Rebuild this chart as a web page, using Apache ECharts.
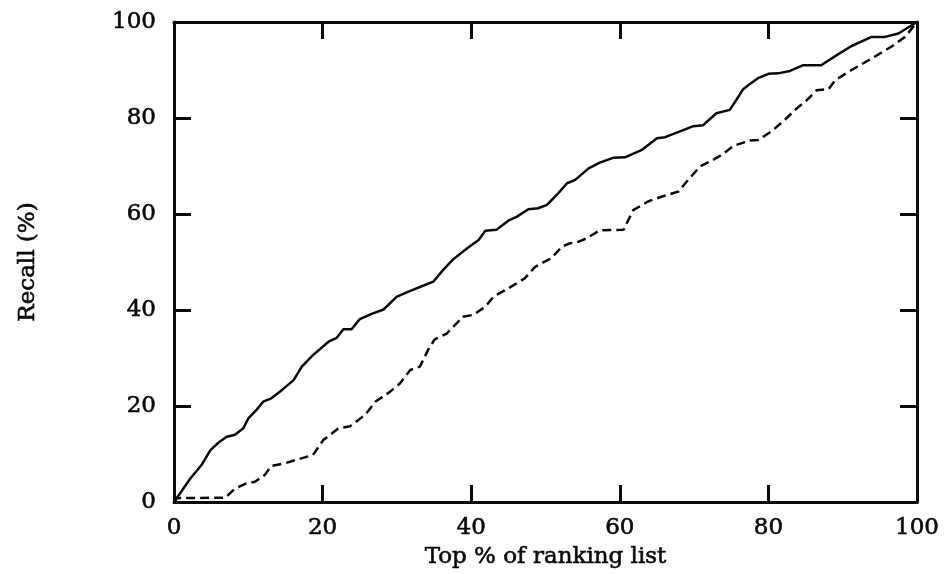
<!DOCTYPE html>
<html>
<head>
<meta charset="utf-8">
<title>Recall vs ranking list</title>
<script src="https://cdn.jsdelivr.net/npm/echarts@6/dist/echarts.min.js"></script>
<style>
    html, body { margin: 0; padding: 0; background: #fff; }
    .main { width: 944px; height: 574px; }
</style>
</head>
<body>
<div class="main"></div>
<script>
// values (x = top % of ranking list, y = recall %)
let solidX = [0, 2.2, 3.7, 4.9, 6.0, 7.1, 8.2, 9.3, 10.0, 11.1, 12.0, 13.1, 14.5, 16.1, 17.2, 18.7,
    20.8, 21.9, 22.8, 23.9, 25.0, 26.6, 28.2, 30.0, 31.8, 33.6, 34.9, 36.2, 37.6, 39.6, 41.0, 41.9,
    43.4, 45.0, 46.1, 47.7, 49.0, 50.2, 51.7, 52.9, 54.0, 55.8, 57.3, 59.1, 60.7, 62.9, 65.0, 66.1,
    68.1, 69.9, 71.2, 73.0, 74.8, 75.7, 76.6, 77.5, 78.6, 80.0, 81.3, 82.9, 84.7, 87.1, 89.2, 91.2,
    93.9, 95.7, 97.5, 100];
let solidY = [0, 4.9, 7.7, 10.8, 12.4, 13.6, 14.0, 15.3, 17.4, 19.2, 20.9, 21.6, 23.3, 25.4, 28.2, 30.6,
    33.4, 34.2, 36.0, 36.0, 38.1, 39.2, 40.1, 42.8, 44.0, 45.1, 45.9, 48.3, 50.6, 53.0, 54.6, 56.5,
    56.7, 58.6, 59.4, 61.0, 61.2, 61.9, 64.3, 66.4, 67.1, 69.5, 70.7, 71.7, 71.8, 73.3, 75.8, 76.0,
    77.2, 78.3, 78.5, 81.0, 81.7, 83.8, 86.0, 87.1, 88.3, 89.2, 89.3, 89.8, 91.0, 91.0, 93.1, 95.0,
    96.9, 96.9, 97.6, 100];

let dashedX = [0, 0.4, 6.9, 8.2, 9.6, 10.9, 12.2, 13.1, 15.0, 16.7, 18.7, 20.1, 22.1, 23.7, 25.7, 27.1,
    29.1, 30.4, 31.8, 33.1, 34.2, 35.1, 36.7, 38.9, 40.3, 41.9, 43.0, 45.0, 47.2, 48.6, 50.8, 52.2,
    53.3, 54.4, 55.5, 57.3, 60.5, 61.8, 63.8, 65.6, 67.9, 69.2, 70.8, 72.1, 73.7, 75.3, 77.5, 78.6,
    80.4, 82.2, 83.8, 85.1, 86.5, 88.1, 89.0, 91.2, 93.9, 96.6, 98.4, 100];
let dashedY = [0, 0.8, 0.9, 2.8, 3.8, 4.2, 5.6, 7.5, 8.1, 8.9, 9.8, 12.9, 15.3, 15.8, 18.1, 20.9,
    23.0, 24.7, 27.5, 28.2, 31.7, 33.9, 35.1, 38.6, 39.0, 40.7, 42.8, 44.5, 46.6, 49.0, 50.8, 53.2,
    53.9, 54.2, 54.9, 56.6, 56.7, 60.8, 62.6, 63.6, 64.7, 67.1, 69.9, 70.9, 72.3, 74.2, 75.3, 75.4,
    77.2, 79.6, 82.0, 83.6, 85.8, 86.0, 87.9, 90.0, 92.4, 94.9, 96.9, 100];

let axisMin = 0;
let axisMax = 100;
let tickStep = 20;

let zip = function(xs, ys) {
    return xs.map(function(x, i) { return [x, ys[i]]; });
};

let chart = echarts.init(document.querySelector('.main'), null, { renderer: 'canvas' });

// DejaVu Serif is wide, close to the Computer Modern look of the original;
// a thin outline gives the heavier scanned stroke
let font = '"DejaVu Serif", "Liberation Serif", serif';
let ink = '#0a0a0a';
let textStyle = {
    color: ink, fontFamily: font, fontSize: 23,
    textBorderColor: ink, textBorderWidth: 0.6
};

// frame axis: same scale on all four sides, ticks pointing inward
let frameAxis = function(position, showLabel, extra) {
    return Object.assign({
        type: 'value',
        position: position,
        min: axisMin,
        max: axisMax,
        interval: tickStep,
        axisLine: { show: true, onZero: false, lineStyle: { color: ink, width: 3 } },
        axisTick: { show: true, inside: true, length: 17, lineStyle: { color: ink, width: 3 } },
        axisLabel: Object.assign({ show: showLabel }, textStyle),
        splitLine: { show: false }
    }, extra || {});
};

let options = {
    animation: false,
    backgroundColor: '#fff',
    grid: { left: 174, right: 27, top: 22, bottom: 72 },
    xAxis: [
        frameAxis('bottom', true, {
            name: 'Top % of ranking list',
            nameLocation: 'middle',
            nameGap: 33,
            nameTextStyle: textStyle,
            axisLabel: Object.assign({ show: true, margin: 15 }, textStyle)
        }),
        frameAxis('top', false)
    ],
    yAxis: [
        frameAxis('left', true, {
            name: 'Recall (%)',
            nameLocation: 'middle',
            nameGap: 134,
            nameRotate: 90,
            nameTextStyle: textStyle,
            axisLabel: Object.assign({ show: true, margin: 18 }, textStyle)
        }),
        frameAxis('right', false)
    ],
    series: [
        {
            name: 'solid',
            type: 'line',
            data: zip(solidX, solidY),
            showSymbol: false,
            lineStyle: { color: ink, width: 2.5 }
        },
        {
            name: 'dashed',
            type: 'line',
            data: zip(dashedX, dashedY),
            showSymbol: false,
            lineStyle: { color: ink, width: 2.5, type: [9, 5] }
        }
    ]
};

chart.setOption(options);
</script>
</body>
</html>
